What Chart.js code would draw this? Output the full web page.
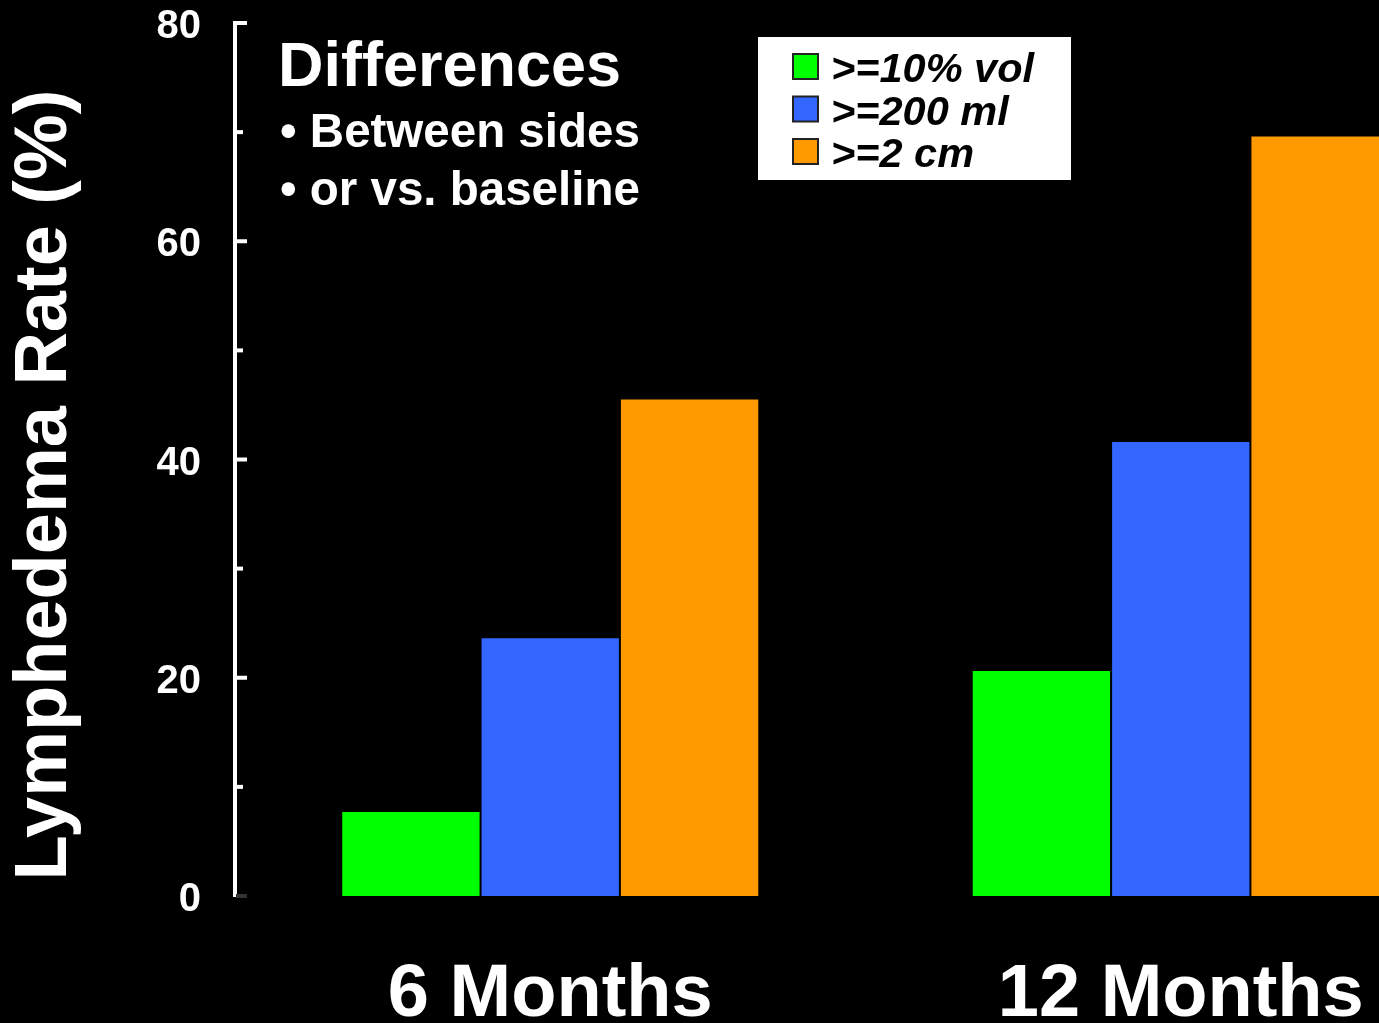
<!DOCTYPE html>
<html>
<head>
<meta charset="utf-8">
<script src="https://cdn.jsdelivr.net/npm/chart.js@4.4.0/dist/chart.umd.min.js"></script>
<style>
    html, body { margin: 0; padding: 0; background: #000; overflow: hidden; }
    #wrap { position: relative; width: 1379px; height: 1023px; overflow: hidden; }
    #wrap canvas { position: absolute; left: 0; top: 0; }
</style>
</head>
<body>
<div id="wrap"><canvas id="myChart" width="1496" height="1023"></canvas></div>
<script>
// dati
const categories = ["6 Months", "12 Months"];
const seriesNames = [">=10% vol", ">=200 ml", ">=2 cm"];
const vol10 = [7.8, 20.7];
const ml200 = [23.7, 41.7];
const cm2 = [45.6, 69.7];
const yTicks = [0, 20, 40, 60, 80];
const minorTicks = [10, 30, 50, 70];
const yTitle = "Lymphedema Rate (%)";
const noteLines = ["Differences", "\u2022 Between sides", "\u2022 or vs. baseline"];
const colors = ["#00ff00", "#3366ff", "#ff9900"];

const FONT = "'Liberation Sans', Arial, sans-serif";

// tacche interne, titolo asse, riquadro note e legenda
const extras = {
    id: "extras",
    afterDraw(chart) {
        const ctx = chart.ctx;
        const y = chart.scales.y;
        const ax = chart.chartArea.left + 1;
        ctx.save();

        ctx.lineWidth = 4;
        yTicks.forEach((v) => {
            const py = y.getPixelForValue(v);
            ctx.strokeStyle = v === 0 ? "#333" : "#fff";
            ctx.beginPath();
            ctx.moveTo(ax, py);
            ctx.lineTo(ax + 11, py);
            ctx.stroke();
        });
        ctx.strokeStyle = "#fff";
        minorTicks.forEach((v) => {
            const py = y.getPixelForValue(v);
            ctx.beginPath();
            ctx.moveTo(ax, py);
            ctx.lineTo(ax + 7, py);
            ctx.stroke();
        });

        // titolo asse y
        ctx.save();
        ctx.translate(46, 485);
        ctx.rotate(-Math.PI / 2);
        ctx.fillStyle = "#fff";
        ctx.font = "bold 74px " + FONT;
        ctx.textAlign = "center";
        ctx.textBaseline = "middle";
        ctx.fillText(yTitle, 0, 0);
        ctx.restore();

        // note
        ctx.fillStyle = "#fff";
        ctx.textAlign = "left";
        ctx.textBaseline = "alphabetic";
        ctx.font = "bold 63px " + FONT;
        ctx.fillText(noteLines[0], 278, 86);
        ctx.font = "bold 47.5px " + FONT;
        ctx.fillText(noteLines[1], 280, 147);
        ctx.fillText(noteLines[2], 280, 205);

        // legenda
        ctx.fillStyle = "#fff";
        ctx.fillRect(758, 37, 313, 143);
        ctx.font = "italic bold 41.5px " + FONT;
        chart.data.datasets.forEach((ds, i) => {
            const top = 54 + i * 42.5;
            ctx.fillStyle = ds.backgroundColor;
            ctx.fillRect(793, top, 25, 25);
            ctx.lineWidth = 2;
            ctx.strokeStyle = "#222";
            ctx.strokeRect(793, top, 25, 25);
            ctx.fillStyle = "#000";
            ctx.fillText(ds.label, 831, top + 28);
        });

        ctx.restore();
    },
};

const ctx = document.getElementById("myChart").getContext("2d");

const myChart = new Chart(ctx, {
    type: "bar",
    data: {
        labels: categories,
        datasets: [
            { label: seriesNames[0], data: vol10, backgroundColor: colors[0] },
            { label: seriesNames[1], data: ml200, backgroundColor: colors[1] },
            { label: seriesNames[2], data: cm2, backgroundColor: colors[2] },
        ].map((d) => ({
            ...d,
            borderColor: "rgba(0,0,0,0.7)",
            borderWidth: 1,
            barPercentage: 1,
            categoryPercentage: 0.663,
        })),
    },
    options: {
        responsive: false,
        animation: false,
        layout: { padding: { top: 23, left: 0, right: 0, bottom: 0 } },
        plugins: {
            legend: { display: false },
            tooltip: { enabled: false },
        },
        scales: {
            x: {
                grid: { display: false, drawTicks: false },
                border: { display: false },
                ticks: {
                    color: "#fff",
                    padding: 63,
                    maxRotation: 0,
                    font: { family: FONT, size: 74, weight: "bold", lineHeight: 1 },
                },
                afterFit(scale) {
                    scale.height = 127;
                },
            },
            y: {
                min: 0,
                max: 80,
                grid: { display: false, drawTicks: false },
                border: { display: true, color: "#fff", width: 4 },
                ticks: {
                    stepSize: 20,
                    color: "#fff",
                    padding: 34,
                    labelOffset: 4,
                    font: { family: FONT, size: 40, weight: "bold", lineHeight: 1 },
                },
                afterFit(scale) {
                    scale.width = 235;
                    scale.paddingTop = 0;
                    scale.paddingBottom = 0;
                },
            },
        },
    },
    plugins: [extras],
});
</script>
</body>
</html>
